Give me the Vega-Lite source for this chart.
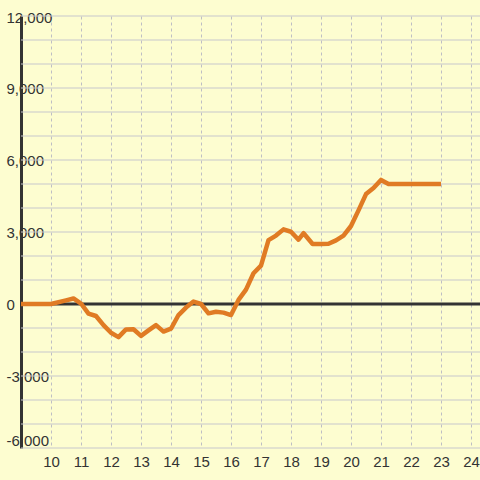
{
  "$schema": "https://vega.github.io/schema/vega-lite/v6.json",
  "autosize": "none",
  "width": 459,
  "height": 432,
  "padding": {"left": 21, "top": 16, "right": 0, "bottom": 32},
  "background": "#FDFDD0",
  "config": {
    "view": {"stroke": null},
    "axis": {"labelFont": "Liberation Sans", "labelColor": "#333333", "labelFontSize": 15}
  },
  "layer": [
    {
      "data": {"values": [{"g": -6000}, {"g": -5000}, {"g": -4000}, {"g": -3000}, {"g": -2000}, {"g": -1000}, {"g": 1000}, {"g": 2000}, {"g": 3000}, {"g": 4000}, {"g": 5000}, {"g": 6000}, {"g": 7000}, {"g": 8000}, {"g": 9000}, {"g": 10000}, {"g": 11000}, {"g": 12000}]},
      "mark": {"type": "rule", "color": "#C8C8CC", "strokeWidth": 1.2},
      "encoding": {
        "y": {
          "field": "g", "type": "quantitative",
          "scale": {"domain": [-6000, 12000], "nice": false},
          "axis": {
            "title": null, "values": [-6000, -3000, 0, 3000, 6000, 9000, 12000],
            "format": ",d", "labelExpr": "replace(datum.label, '\u2212', '-')",
            "domain": true, "domainColor": "#333333", "domainWidth": 3,
            "ticks": false, "grid": false, "labelAlign": "left", "labelPadding": 15,
            "labelFontSize": 15, "labelFlush": false,
            "labelBaseline": {"condition": {"test": "datum.value == -6000", "value": "bottom"}, "value": "middle"},
            "labelOffset": {"condition": {"test": "datum.value == 12000", "value": 1.5}, "value": 0}
          }
        }
      }
    },
    {
      "data": {"values": [{"g": 0}]},
      "mark": {"type": "rule", "color": "#333333", "strokeWidth": 3},
      "encoding": {"y": {"field": "g", "type": "quantitative"}}
    },
    {
      "data": {
        "values": [
          {"x": 9, "y": 0}, {"x": 10, "y": 0}, {"x": 10.5, "y": 150}, {"x": 10.75, "y": 230},
          {"x": 11, "y": 20}, {"x": 11.25, "y": -400}, {"x": 11.5, "y": -500}, {"x": 11.75, "y": -880},
          {"x": 12, "y": -1200}, {"x": 12.25, "y": -1380}, {"x": 12.5, "y": -1060}, {"x": 12.75, "y": -1050},
          {"x": 13, "y": -1330}, {"x": 13.25, "y": -1100}, {"x": 13.5, "y": -880}, {"x": 13.75, "y": -1150},
          {"x": 14, "y": -1030}, {"x": 14.25, "y": -460}, {"x": 14.5, "y": -150}, {"x": 14.75, "y": 100},
          {"x": 15, "y": 0}, {"x": 15.25, "y": -390}, {"x": 15.5, "y": -320}, {"x": 15.75, "y": -360},
          {"x": 16, "y": -460}, {"x": 16.25, "y": 170}, {"x": 16.5, "y": 600}, {"x": 16.75, "y": 1280},
          {"x": 17, "y": 1600}, {"x": 17.25, "y": 2660}, {"x": 17.5, "y": 2850}, {"x": 17.75, "y": 3110},
          {"x": 18, "y": 3010}, {"x": 18.25, "y": 2680}, {"x": 18.42, "y": 2950}, {"x": 18.72, "y": 2500},
          {"x": 19, "y": 2500}, {"x": 19.25, "y": 2510}, {"x": 19.5, "y": 2650}, {"x": 19.75, "y": 2850},
          {"x": 20, "y": 3250}, {"x": 20.25, "y": 3900}, {"x": 20.5, "y": 4580}, {"x": 20.75, "y": 4830},
          {"x": 21, "y": 5170}, {"x": 21.25, "y": 5000}, {"x": 22, "y": 5000}, {"x": 23, "y": 5000}
        ]
      },
      "mark": {"type": "line", "color": "#E07B24", "strokeWidth": 4.5, "strokeJoin": "round", "strokeCap": "butt"},
      "encoding": {
        "x": {
          "field": "x", "type": "quantitative",
          "scale": {"domain": [9, 24.3], "nice": false, "zero": false},
          "axis": {
            "title": null, "values": [10, 11, 12, 13, 14, 15, 16, 17, 18, 19, 20, 21, 22, 23, 24],
            "format": "d", "domain": false, "ticks": false, "labelPadding": 6,
            "grid": true, "gridColor": "#BEBEC4", "gridDash": [3, 3], "gridWidth": 1,
            "labelFlush": false, "labelFontSize": 15
          }
        },
        "y": {"field": "y", "type": "quantitative"}
      }
    }
  ],
  "resolve": {"scale": {"y": "shared"}}
}
